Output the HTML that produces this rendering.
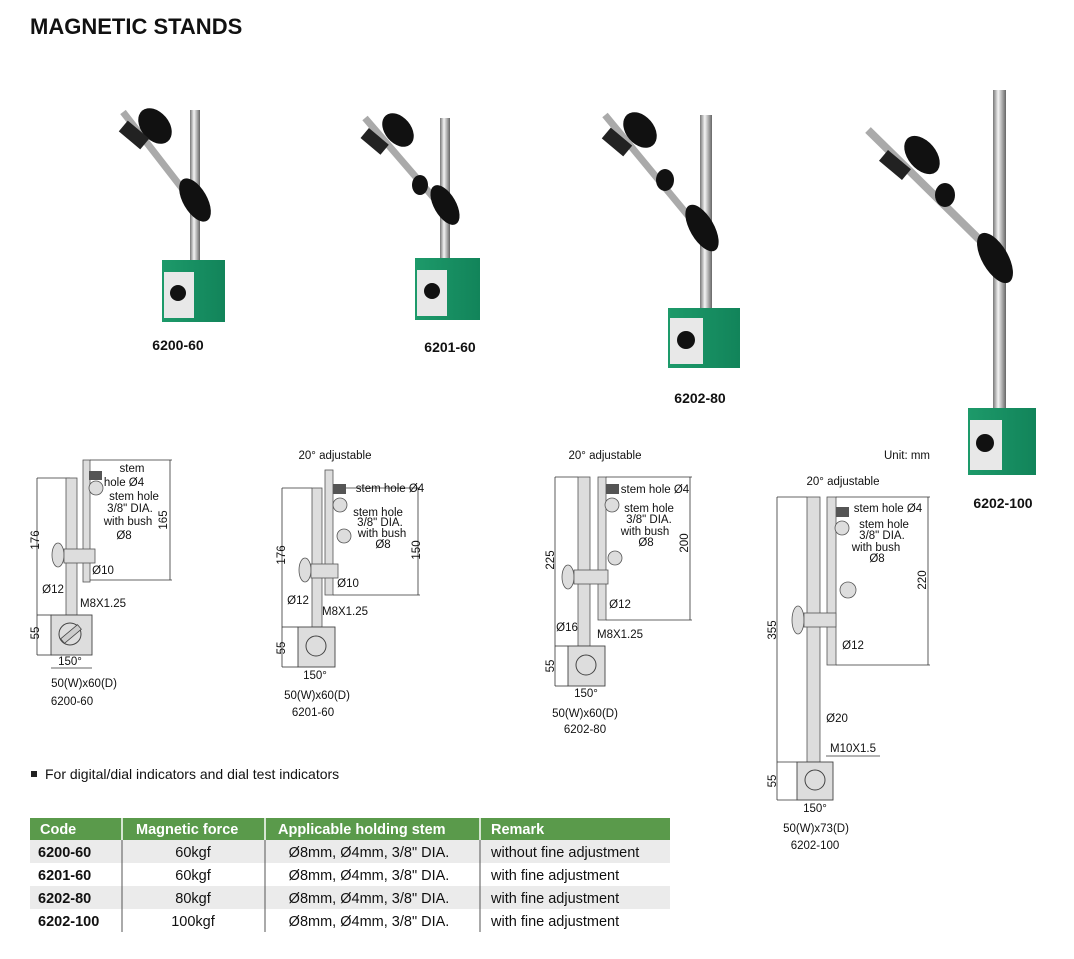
<!DOCTYPE html>
<html><head><meta charset="utf-8"><style>
body{margin:0;background:#fff;width:1074px;height:959px;overflow:hidden;font-family:"Liberation Sans",Arial,sans-serif}
svg{position:absolute;left:0;top:0}
.t{font-size:11.5px;fill:#111}
.b{font-weight:bold;font-size:14px;fill:#111}
.dl{stroke:#333;stroke-width:0.8;fill:none}
.rod{fill:#ddd;stroke:#555;stroke-width:0.8}
.box{fill:#ddd;stroke:#444;stroke-width:0.9}
</style></head><body>
<svg width="1074" height="959" viewBox="0 0 1074 959">
<defs>
<linearGradient id="chrome" x1="0" x2="1"><stop offset="0" stop-color="#777"/><stop offset=".4" stop-color="#f4f4f4"/><stop offset="1" stop-color="#666"/></linearGradient>
<linearGradient id="grn" x1="0" x2="1"><stop offset="0" stop-color="#1d9a6a"/><stop offset="1" stop-color="#12845a"/></linearGradient>
</defs>
<text x="30" y="34" style="font-size:22px;font-weight:bold;fill:#111">MAGNETIC STANDS</text>

<!-- photos -->
<g>
<rect x="190" y="110" width="10" height="155" fill="url(#chrome)"/>
<line x1="123" y1="112" x2="195" y2="205" stroke="#aaa" stroke-width="7"/>
<ellipse cx="155" cy="126" rx="14" ry="20" fill="#111" transform="rotate(-40 155 126)"/>
<rect x="120" y="128" width="28" height="14" fill="#222" transform="rotate(40 134 135)"/>
<ellipse cx="195" cy="200" rx="12" ry="24" fill="#111" transform="rotate(-30 195 200)"/>
<rect x="162" y="260" width="63" height="62" fill="url(#grn)"/>
<rect x="164" y="272" width="30" height="46" fill="#e8e8e8"/>
<circle cx="178" cy="293" r="8" fill="#111"/>
<text x="178" y="350" class="b" text-anchor="middle">6200-60</text>
</g>
<g>
<rect x="440" y="118" width="10" height="145" fill="url(#chrome)"/>
<line x1="365" y1="118" x2="440" y2="205" stroke="#aaa" stroke-width="7"/>
<ellipse cx="398" cy="130" rx="13" ry="19" fill="#111" transform="rotate(-40 398 130)"/>
<rect x="362" y="135" width="26" height="13" fill="#222" transform="rotate(40 375 141)"/>
<ellipse cx="445" cy="205" rx="11" ry="22" fill="#111" transform="rotate(-30 445 205)"/>
<ellipse cx="420" cy="185" rx="8" ry="10" fill="#111"/>
<rect x="415" y="258" width="65" height="62" fill="url(#grn)"/>
<rect x="417" y="270" width="30" height="46" fill="#e8e8e8"/>
<circle cx="432" cy="291" r="8" fill="#111"/>
<text x="450" y="352" class="b" text-anchor="middle">6201-60</text>
</g>
<g>
<rect x="700" y="115" width="12" height="195" fill="url(#chrome)"/>
<line x1="605" y1="115" x2="700" y2="230" stroke="#aaa" stroke-width="7"/>
<ellipse cx="640" cy="130" rx="14" ry="20" fill="#111" transform="rotate(-40 640 130)"/>
<rect x="603" y="135" width="28" height="14" fill="#222" transform="rotate(40 617 142)"/>
<ellipse cx="702" cy="228" rx="12" ry="26" fill="#111" transform="rotate(-30 702 228)"/>
<ellipse cx="665" cy="180" rx="9" ry="11" fill="#111"/>
<rect x="668" y="308" width="72" height="60" fill="url(#grn)"/>
<rect x="670" y="318" width="33" height="46" fill="#e8e8e8"/>
<circle cx="686" cy="340" r="9" fill="#111"/>
<text x="700" y="403" class="b" text-anchor="middle">6202-80</text>
</g>
<g>
<rect x="993" y="90" width="13" height="320" fill="url(#chrome)"/>
<line x1="868" y1="130" x2="995" y2="255" stroke="#aaa" stroke-width="8"/>
<ellipse cx="922" cy="155" rx="14" ry="22" fill="#111" transform="rotate(-40 922 155)"/>
<rect x="880" y="158" width="30" height="14" fill="#222" transform="rotate(40 895 165)"/>
<ellipse cx="995" cy="258" rx="13" ry="28" fill="#111" transform="rotate(-30 995 258)"/>
<ellipse cx="945" cy="195" rx="10" ry="12" fill="#111"/>
<rect x="968" y="408" width="68" height="67" fill="url(#grn)"/>
<rect x="970" y="420" width="32" height="50" fill="#e8e8e8"/>
<circle cx="985" cy="443" r="9" fill="#111"/>
<text x="1003" y="508" class="b" text-anchor="middle">6202-100</text>
</g>

<!-- drawing 1 -->
<g>
<line class="dl" x1="37" y1="478" x2="70" y2="478"/><line class="dl" x1="37" y1="478" x2="37" y2="655"/>
<line class="dl" x1="37" y1="615" x2="52" y2="615"/><line class="dl" x1="37" y1="655" x2="52" y2="655"/>
<rect class="rod" x="66" y="478" width="11" height="137"/>
<rect class="rod" x="83" y="460" width="7" height="122"/>
<line class="dl" x1="90" y1="460" x2="172" y2="460"/><line class="dl" x1="170" y1="460" x2="170" y2="580"/><line class="dl" x1="90" y1="580" x2="172" y2="580"/>
<rect x="89" y="471" width="13" height="9" fill="#555"/>
<circle cx="96" cy="488" r="7" class="rod"/>
<ellipse cx="58" cy="555" rx="6" ry="12" class="rod"/>
<rect class="rod" x="64" y="549" width="31" height="14"/>
<rect class="box" x="51" y="615" width="41" height="40"/>
<circle cx="70" cy="634" r="11" fill="none" stroke="#444"/><rect x="60" y="631" width="22" height="6" fill="#ccc" stroke="#444" stroke-width=".8" transform="rotate(-40 71 634)"/>
<line class="dl" x1="51" y1="668" x2="92" y2="668"/>
<text class="t" x="70" y="665" text-anchor="middle">150°</text>
<text class="t" x="84" y="687" text-anchor="middle">50(W)x60(D)</text>
<text class="t" x="72" y="705" text-anchor="middle">6200-60</text>
<text class="t" x="132" y="472" text-anchor="middle">stem</text>
<text class="t" x="124" y="486" text-anchor="middle">hole Ø4</text>
<text class="t" x="134" y="500" text-anchor="middle">stem  hole</text>
<text class="t" x="130" y="512" text-anchor="middle">3/8" DIA.</text>
<text class="t" x="128" y="525" text-anchor="middle">with bush</text>
<text class="t" x="124" y="539" text-anchor="middle">Ø8</text>
<text class="t" x="103" y="574" text-anchor="middle">Ø10</text>
<text class="t" x="53" y="593" text-anchor="middle">Ø12</text>
<text class="t" x="103" y="607" text-anchor="middle">M8X1.25</text>
<text class="t" transform="translate(39 540) rotate(-90)" text-anchor="middle">176</text>
<text class="t" transform="translate(167 520) rotate(-90)" text-anchor="middle">165</text>
<text class="t" transform="translate(39 633) rotate(-90)" text-anchor="middle">55</text>
</g>

<!-- drawing 2 -->
<g>
<text class="t" x="335" y="459" text-anchor="middle">20° adjustable</text>
<line class="dl" x1="282" y1="488" x2="312" y2="488"/><line class="dl" x1="282" y1="488" x2="282" y2="667"/>
<line class="dl" x1="282" y1="627" x2="298" y2="627"/><line class="dl" x1="282" y1="667" x2="298" y2="667"/>
<rect class="rod" x="312" y="488" width="10" height="139"/>
<rect class="rod" x="325" y="470" width="8" height="125"/>
<line class="dl" x1="333" y1="488" x2="420" y2="488"/><line class="dl" x1="418" y1="488" x2="418" y2="595"/><line class="dl" x1="333" y1="595" x2="420" y2="595"/>
<rect x="333" y="484" width="13" height="10" fill="#555"/>
<circle cx="340" cy="505" r="7" class="rod"/><circle cx="344" cy="536" r="7" class="rod"/>
<ellipse cx="305" cy="570" rx="6" ry="12" class="rod"/>
<rect class="rod" x="311" y="564" width="27" height="14"/>
<rect class="box" x="298" y="627" width="37" height="40"/>
<circle cx="316" cy="646" r="10" fill="none" stroke="#444"/>
<text class="t" x="315" y="679" text-anchor="middle">150°</text>
<text class="t" x="317" y="699" text-anchor="middle">50(W)x60(D)</text>
<text class="t" x="313" y="716" text-anchor="middle">6201-60</text>
<text class="t" x="390" y="492" text-anchor="middle">stem hole Ø4</text>
<text class="t" x="378" y="516" text-anchor="middle">stem  hole</text>
<text class="t" x="380" y="526" text-anchor="middle">3/8" DIA.</text>
<text class="t" x="382" y="537" text-anchor="middle">with bush</text>
<text class="t" x="383" y="548" text-anchor="middle">Ø8</text>
<text class="t" x="348" y="587" text-anchor="middle">Ø10</text>
<text class="t" x="298" y="604" text-anchor="middle">Ø12</text>
<text class="t" x="345" y="615" text-anchor="middle">M8X1.25</text>
<text class="t" transform="translate(285 555) rotate(-90)" text-anchor="middle">176</text>
<text class="t" transform="translate(420 550) rotate(-90)" text-anchor="middle">150</text>
<text class="t" transform="translate(285 648) rotate(-90)" text-anchor="middle">55</text>
</g>

<!-- drawing 3 -->
<g>
<text class="t" x="605" y="459" text-anchor="middle">20° adjustable</text>
<line class="dl" x1="555" y1="477" x2="578" y2="477"/><line class="dl" x1="555" y1="477" x2="555" y2="686"/>
<line class="dl" x1="555" y1="646" x2="568" y2="646"/><line class="dl" x1="555" y1="686" x2="568" y2="686"/>
<rect class="rod" x="578" y="477" width="12" height="169"/>
<rect class="rod" x="598" y="477" width="8" height="143"/>
<line class="dl" x1="606" y1="477" x2="692" y2="477"/><line class="dl" x1="690" y1="477" x2="690" y2="620"/><line class="dl" x1="606" y1="620" x2="692" y2="620"/>
<rect x="606" y="484" width="13" height="10" fill="#555"/>
<circle cx="612" cy="505" r="7" class="rod"/><circle cx="615" cy="558" r="7" class="rod"/>
<ellipse cx="568" cy="577" rx="6" ry="12" class="rod"/>
<rect class="rod" x="574" y="570" width="34" height="14"/>
<rect class="box" x="568" y="646" width="37" height="40"/>
<circle cx="586" cy="665" r="10" fill="none" stroke="#444"/>
<text class="t" x="586" y="697" text-anchor="middle">150°</text>
<text class="t" x="585" y="717" text-anchor="middle">50(W)x60(D)</text>
<text class="t" x="585" y="733" text-anchor="middle">6202-80</text>
<text class="t" x="655" y="493" text-anchor="middle">stem hole Ø4</text>
<text class="t" x="649" y="512" text-anchor="middle">stem  hole</text>
<text class="t" x="649" y="523" text-anchor="middle">3/8" DIA.</text>
<text class="t" x="645" y="535" text-anchor="middle">with bush</text>
<text class="t" x="646" y="546" text-anchor="middle">Ø8</text>
<text class="t" x="620" y="608" text-anchor="middle">Ø12</text>
<text class="t" x="567" y="631" text-anchor="middle">Ø16</text>
<text class="t" x="620" y="638" text-anchor="middle">M8X1.25</text>
<text class="t" transform="translate(554 560) rotate(-90)" text-anchor="middle">225</text>
<text class="t" transform="translate(688 543) rotate(-90)" text-anchor="middle">200</text>
<text class="t" transform="translate(554 666) rotate(-90)" text-anchor="middle">55</text>
</g>

<!-- drawing 4 -->
<g>
<text class="t" x="907" y="459" text-anchor="middle">Unit: mm</text>
<text class="t" x="843" y="485" text-anchor="middle">20° adjustable</text>
<line class="dl" x1="777" y1="497" x2="807" y2="497"/><line class="dl" x1="777" y1="497" x2="777" y2="800"/>
<line class="dl" x1="777" y1="762" x2="797" y2="762"/><line class="dl" x1="777" y1="800" x2="797" y2="800"/>
<rect class="rod" x="807" y="497" width="13" height="265"/>
<rect class="rod" x="827" y="497" width="9" height="168"/>
<line class="dl" x1="836" y1="497" x2="930" y2="497"/><line class="dl" x1="928" y1="497" x2="928" y2="665"/><line class="dl" x1="836" y1="665" x2="930" y2="665"/>
<rect x="836" y="507" width="13" height="10" fill="#555"/>
<circle cx="842" cy="528" r="7" class="rod"/><circle cx="848" cy="590" r="8" class="rod"/>
<ellipse cx="798" cy="620" rx="6" ry="14" class="rod"/>
<rect class="rod" x="804" y="613" width="32" height="14"/>
<rect class="box" x="797" y="762" width="36" height="38"/>
<circle cx="815" cy="780" r="10" fill="none" stroke="#444"/>
<text class="t" x="815" y="812" text-anchor="middle">150°</text>
<text class="t" x="816" y="832" text-anchor="middle">50(W)x73(D)</text>
<text class="t" x="815" y="849" text-anchor="middle">6202-100</text>
<text class="t" x="888" y="512" text-anchor="middle">stem hole Ø4</text>
<text class="t" x="884" y="528" text-anchor="middle">stem  hole</text>
<text class="t" x="882" y="539" text-anchor="middle">3/8" DIA.</text>
<text class="t" x="876" y="551" text-anchor="middle">with bush</text>
<text class="t" x="877" y="562" text-anchor="middle">Ø8</text>
<text class="t" x="853" y="649" text-anchor="middle">Ø12</text>
<text class="t" x="837" y="722" text-anchor="middle">Ø20</text>
<line class="dl" x1="826" y1="756" x2="880" y2="756"/>
<text class="t" x="853" y="752" text-anchor="middle">M10X1.5</text>
<text class="t" transform="translate(776 630) rotate(-90)" text-anchor="middle">355</text>
<text class="t" transform="translate(926 580) rotate(-90)" text-anchor="middle">220</text>
<text class="t" transform="translate(776 781) rotate(-90)" text-anchor="middle">55</text>
</g>

<rect x="31" y="771" width="6" height="6" fill="#222"/>
<text x="45" y="779" style="font-size:14px;fill:#111">For digital/dial indicators and dial test indicators</text>

<!-- table -->
<rect x="30" y="818" width="640" height="22" fill="#5a9a4b"/>
<rect x="30" y="840" width="640" height="23" fill="#ebebeb"/>
<rect x="30" y="886" width="640" height="23" fill="#ebebeb"/>
<g stroke="#fff" stroke-width="1.5"><line x1="122" y1="818" x2="122" y2="840"/><line x1="265" y1="818" x2="265" y2="840"/><line x1="480" y1="818" x2="480" y2="840"/></g>
<g stroke="#555" stroke-width="1"><line x1="122" y1="840" x2="122" y2="932"/><line x1="265" y1="840" x2="265" y2="932"/><line x1="480" y1="840" x2="480" y2="932"/></g>
<g style="font-size:14.5px;font-weight:bold;fill:#fff">
<text x="40" y="834">Code</text><text x="136" y="834">Magnetic force</text><text x="278" y="834">Applicable holding stem</text><text x="491" y="834">Remark</text></g>
<g style="font-size:14.5px;fill:#111">
<text x="38" y="857" font-weight="bold">6200-60</text><text x="193" y="857" text-anchor="middle">60kgf</text><text x="369" y="857" text-anchor="middle">Ø8mm, Ø4mm, 3/8" DIA.</text><text x="491" y="857">without fine adjustment</text>
<text x="38" y="880" font-weight="bold">6201-60</text><text x="193" y="880" text-anchor="middle">60kgf</text><text x="369" y="880" text-anchor="middle">Ø8mm, Ø4mm, 3/8" DIA.</text><text x="491" y="880">with fine adjustment</text>
<text x="38" y="903" font-weight="bold">6202-80</text><text x="193" y="903" text-anchor="middle">80kgf</text><text x="369" y="903" text-anchor="middle">Ø8mm, Ø4mm, 3/8" DIA.</text><text x="491" y="903">with fine adjustment</text>
<text x="38" y="926" font-weight="bold">6202-100</text><text x="193" y="926" text-anchor="middle">100kgf</text><text x="369" y="926" text-anchor="middle">Ø8mm, Ø4mm, 3/8" DIA.</text><text x="491" y="926">with fine adjustment</text>
</g>
</svg>
</body></html>
